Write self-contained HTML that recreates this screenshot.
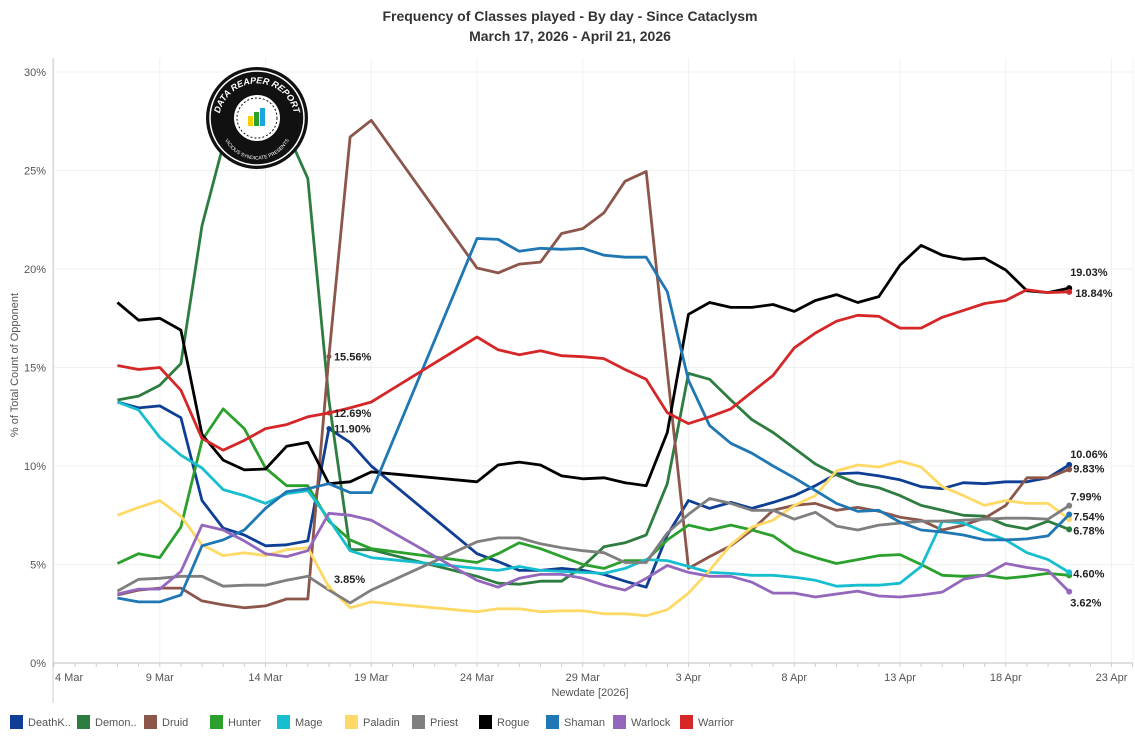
<!DOCTYPE html>
<html><head><meta charset="utf-8"><style>
body{margin:0;background:#fff;font-family:"Liberation Sans",sans-serif;}
#wrap{position:relative;width:1135px;height:754px;overflow:hidden;}
</style></head><body>
<div id="wrap">
<svg id="chart" width="1135" height="754" xmlns="http://www.w3.org/2000/svg">
<text x="570" y="21" text-anchor="middle" font-size="14" font-weight="bold" fill="#333">Frequency of Classes played - By day - Since Cataclysm</text>
<text x="570" y="41" text-anchor="middle" font-size="14" font-weight="bold" fill="#333">March 17, 2026 - April 21, 2026</text>
<text transform="translate(18,365) rotate(-90)" text-anchor="middle" font-size="11" fill="#555">% of Total Count of Opponent</text>
<text x="590" y="696" text-anchor="middle" font-size="11" fill="#555">Newdate [2026]</text>
<g id="grid"></g><g id="axes"></g><g id="series"></g><g id="labels"></g>
<g transform="translate(257,118)">
<circle r="51" fill="#111"/><circle r="47" fill="none" stroke="#fff" stroke-width="1.5"/>
<circle r="24" fill="#fff" stroke="#111" stroke-width="2"/><circle r="20" fill="none" stroke="#111" stroke-width="1" stroke-dasharray="2 2"/>
<rect x="-9" y="-2" width="5" height="10" fill="#f5d000"/><rect x="-3" y="-6" width="5" height="14" fill="#2ca02c"/><rect x="3" y="-10" width="5" height="18" fill="#1aa7e0"/>
<defs><path id="arc" d="M-37,12 A38,38 0 1 1 37,12"/><path id="arc2" d="M-32,22 A36,36 0 0 0 32,22"/></defs>
<text font-size="9" font-weight="bold" fill="#fff" font-style="italic"><textPath href="#arc" startOffset="50%" text-anchor="middle">DATA REAPER REPORT</textPath></text>
<text font-size="5" fill="#fff"><textPath href="#arc2" startOffset="50%" text-anchor="middle">VICIOUS SYNDICATE PRESENTS</textPath></text>
</g>
<g id="legend"></g>
</svg>
</div>
<script>
const dayOffsets=[3,4,5,6,7,8,9,10,11,12,13,14,15,20,21,22,23,24,25,26,27,28,29,30,31,32,33,34,35,36,37,38,39,40,41,42,43,44,45,46,47,48];
const xTickLabels=["4 Mar","9 Mar","14 Mar","19 Mar","24 Mar","29 Mar","3 Apr","8 Apr","13 Apr","18 Apr","23 Apr"];
const yTickValues=[0,5,10,15,20,25,30];
const seriesNames=["DeathK..","Demon..","Druid","Hunter","Mage","Paladin","Priest","Rogue","Shaman","Warlock","Warrior"];
const seriesColors=["#0e3f95","#2e7d40","#8c564b","#2ca02c","#17becf","#ffd966","#7f7f7f","#000000","#1f77b4","#9467bd","#d62728"];
const deathKnight=[13.25,12.95,13.05,12.45,8.25,6.85,6.5,5.95,6.0,6.2,11.9,11.2,10.0,5.55,5.15,4.7,4.7,4.8,4.7,4.5,4.15,3.85,6.5,8.25,7.85,8.15,7.85,8.15,8.5,9.0,9.6,9.65,9.5,9.3,8.95,8.85,9.15,9.1,9.2,9.2,9.4,10.06];
const demonHunter=[13.35,13.55,14.1,15.2,22.2,26.3,28.0,28.0,27.0,24.6,13.35,5.75,5.75,4.4,4.05,4.0,4.15,4.15,4.9,5.9,6.1,6.5,9.1,14.7,14.4,13.35,12.35,11.7,10.9,10.1,9.55,9.1,8.9,8.5,8.0,7.75,7.5,7.45,7.0,6.8,7.2,6.78];
const druid=[3.45,3.7,3.8,3.8,3.15,2.95,2.8,2.9,3.25,3.25,15.56,26.7,27.55,20.05,19.8,20.25,20.35,21.8,22.05,22.85,24.45,24.95,14.8,4.8,5.4,5.95,6.75,7.75,8.0,8.1,7.75,7.9,7.7,7.4,7.25,6.75,7.0,7.35,8.0,9.4,9.4,9.83];
const hunter=[5.05,5.55,5.35,6.9,11.3,12.9,11.9,9.9,9.0,9.0,7.2,6.25,5.8,5.1,5.55,6.1,5.8,5.4,5.0,4.8,5.2,5.2,6.25,7.0,6.75,7.0,6.75,6.45,5.7,5.35,5.05,5.25,5.45,5.5,5.0,4.45,4.4,4.45,4.3,4.4,4.55,4.45];
const mage=[13.25,12.85,11.45,10.55,9.9,8.8,8.5,8.1,8.6,8.75,7.3,5.7,5.35,4.8,4.7,4.9,4.7,4.65,4.6,4.55,4.8,5.25,5.2,4.9,4.6,4.55,4.45,4.45,4.35,4.2,3.9,3.95,3.95,4.05,4.9,7.2,7.1,6.65,6.25,5.6,5.25,4.60];
const paladin=[7.5,7.9,8.25,7.45,6.0,5.45,5.6,5.45,5.75,5.85,3.85,2.8,3.1,2.6,2.75,2.75,2.6,2.65,2.65,2.5,2.5,2.4,2.7,3.55,4.7,6.0,6.9,7.25,8.0,8.5,9.75,10.05,9.95,10.25,9.95,8.95,8.5,8.0,8.25,8.1,8.1,7.3];
const priest=[3.65,4.25,4.3,4.4,4.4,3.9,3.95,3.95,4.2,4.4,3.7,3.05,3.7,6.15,6.35,6.35,6.05,5.85,5.7,5.6,5.1,5.1,6.6,7.55,8.35,8.1,7.75,7.75,7.3,7.65,6.95,6.75,7.0,7.1,7.2,7.2,7.25,7.3,7.35,7.35,7.3,7.99];
const rogue=[18.3,17.4,17.5,16.9,11.6,10.3,9.8,9.85,11.0,11.2,9.1,9.2,9.7,9.2,10.05,10.2,10.05,9.5,9.35,9.4,9.15,9.0,11.7,17.7,18.3,18.05,18.05,18.2,17.85,18.4,18.7,18.3,18.6,20.2,21.2,20.7,20.5,20.55,19.95,18.9,18.8,19.03];
const shaman=[3.3,3.1,3.1,3.45,5.95,6.25,6.75,7.85,8.7,8.85,9.1,8.65,8.65,21.55,21.5,20.9,21.05,21.0,21.05,20.7,20.6,20.6,18.85,14.35,12.05,11.15,10.65,10.0,9.4,8.75,8.1,7.7,7.75,7.15,6.75,6.65,6.5,6.25,6.25,6.3,6.45,7.54];
const warlock=[3.5,3.75,3.75,4.65,7.0,6.75,6.2,5.55,5.4,5.7,7.6,7.5,7.25,4.2,3.85,4.3,4.5,4.5,4.3,3.95,3.7,4.3,4.95,4.6,4.4,4.4,4.1,3.55,3.55,3.35,3.5,3.65,3.4,3.35,3.45,3.6,4.25,4.45,5.05,4.85,4.7,3.62];
const warrior=[15.1,14.9,15.0,13.85,11.4,10.8,11.3,11.9,12.1,12.5,12.69,12.95,13.25,16.55,15.9,15.65,15.85,15.6,15.55,15.45,14.9,14.4,12.7,12.15,12.5,12.9,13.75,14.6,16.0,16.75,17.35,17.65,17.6,17.0,17.0,17.55,17.9,18.25,18.4,18.95,18.8,18.84];
const allSeries=[deathKnight,demonHunter,druid,hunter,mage,paladin,priest,rogue,shaman,warlock,warrior];
const midLabelIdx=10;
const midLabelSeries=[2,10,0,5];

const NS="http://www.w3.org/2000/svg";
const X0=54,DX=21.15,Y0=663,DY=19.7,LEFT=53,RIGHT=1133,TOP=58;
const xs=d=>X0+DX*d, ys=v=>Y0-DY*v;
function mk(t,a,p){const e=document.createElementNS(NS,t);for(const k in a)e.setAttribute(k,a[k]);p.appendChild(e);return e;}
const grid=document.getElementById('grid'),axes=document.getElementById('axes'),ser=document.getElementById('series'),lab=document.getElementById('labels'),leg=document.getElementById('legend');
yTickValues.forEach(v=>{
 const l=mk('line',{x1:LEFT,x2:RIGHT,y1:ys(v),y2:ys(v),stroke:'#f0f0f0','stroke-width':1},grid);
 
 const t=mk('text',{x:46,y:ys(v)+4,'text-anchor':'end','font-size':11,fill:'#555'},axes);
 
 t.textContent=v+'%';
});
xTickLabels.forEach((s,i)=>{
 const x=xs(i*5);
 const l=mk('line',{x1:x,x2:x,y1:TOP,y2:663,stroke:'#f0f0f0','stroke-width':1},grid);
 
 const t=mk('text',{x:i==0?x+1:x,y:681,'text-anchor':i==0?'start':'middle','font-size':11,fill:'#555'},axes);
 
 t.textContent=s;
});
for(let d=0;d<=51;d++){const x=xs(d);if(x>RIGHT)break;const l=mk('line',{x1:x,x2:x,y1:663,y2:667,stroke:'#ccc','stroke-width':1},axes);}
const ax=mk('line',{x1:LEFT,x2:RIGHT,y1:663,y2:663,stroke:'#ccc','stroke-width':1.2},axes);
const ay=mk('line',{x1:LEFT,x2:LEFT,y1:TOP,y2:703,stroke:'#ccc','stroke-width':1},axes);
const ar=mk('line',{x1:RIGHT,x2:RIGHT,y1:TOP,y2:663,stroke:'#f0f0f0','stroke-width':1},axes);

allSeries.forEach((vals,si)=>{
 const pts=vals.map((v,i)=>xs(dayOffsets[i]).toFixed(1)+','+ys(v).toFixed(1)).join(' ');
 const p=mk('polyline',{points:pts,fill:'none',stroke:seriesColors[si],'stroke-width':2.8,'stroke-linejoin':'round'},ser);
 
 
 const n=vals.length-1;
 const c=mk('circle',{cx:xs(dayOffsets[n]),cy:ys(vals[n]),r:3,fill:seriesColors[si]},ser);
 
});
const endOrder=[[7,-16,1],[10,1,6],[0,-11,1],[2,-1,4],[6,-9,1],[8,2,4],[1,1,4],[4,1,4],[9,11,1]];
endOrder.forEach(([si,dy,dx])=>{
 const v=allSeries[si][allSeries[si].length-1];
 const t=mk('text',{x:xs(dayOffsets[dayOffsets.length-1])+dx,y:ys(v)+4+dy,'font-size':11,'font-weight':'bold',fill:'#222'},lab);
 
 t.textContent=v.toFixed(2)+'%';
});
midLabelSeries.forEach(si=>{
 const v=allSeries[si][midLabelIdx],x=xs(dayOffsets[midLabelIdx]),y=ys(v);
 const c=mk('circle',{cx:x,cy:y,r:2.5,fill:seriesColors[si]},lab);
 
 const t=mk('text',{x:x+5,y:si==5?y-4:y+4,'font-size':11,'font-weight':'bold',fill:'#222'},lab);
 
 t.textContent=v.toFixed(2)+'%';
});
const legX=[10,77,144,210,277,345,412,479,546,613,680];
seriesNames.forEach((s,i)=>{
 const g=mk('g',{},leg);
 
 mk('rect',{x:legX[i],y:715,width:13,height:14,fill:seriesColors[i]},g);
 const t=mk('text',{x:legX[i]+18,y:726,'font-size':11,fill:'#555'},g);
 t.textContent=s;
});
</script>
</body></html>
